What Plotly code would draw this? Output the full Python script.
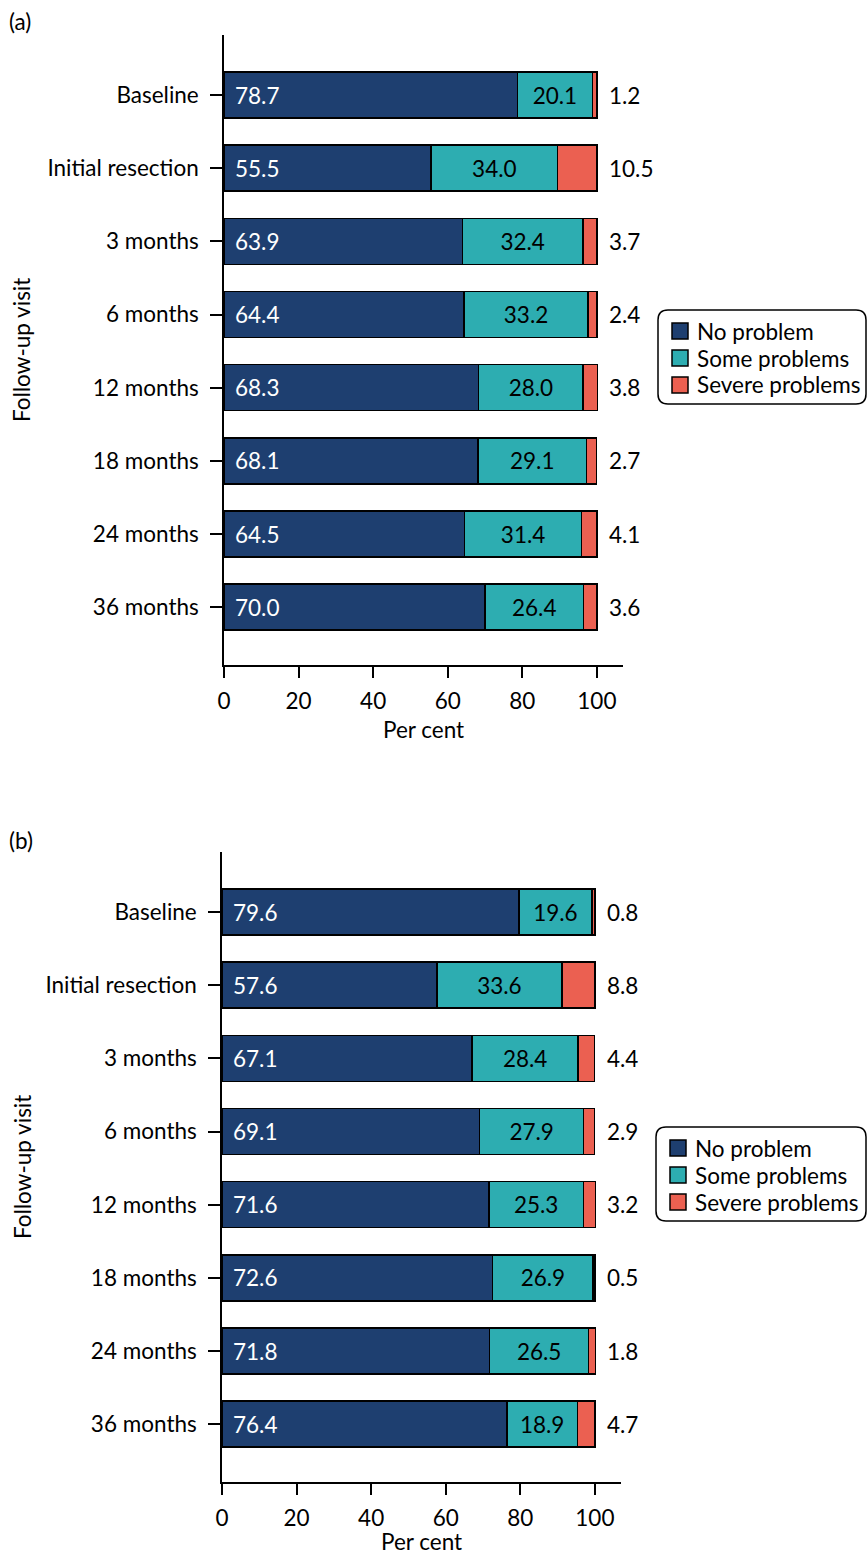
import plotly.graph_objects as go

visits = ["Baseline", "Initial resection", "3 months", "6 months",
          "12 months", "18 months", "24 months", "36 months"]
series_names = ["No problem", "Some problems", "Severe problems"]

a_none = [78.7, 55.5, 63.9, 64.4, 68.3, 68.1, 64.5, 70.0]
a_some = [20.1, 34.0, 32.4, 33.2, 28.0, 29.1, 31.4, 26.4]
a_severe = [1.2, 10.5, 3.7, 2.4, 3.8, 2.7, 4.1, 3.6]

b_none = [79.6, 57.6, 67.1, 69.1, 71.6, 72.6, 71.8, 76.4]
b_some = [19.6, 33.6, 28.4, 27.9, 25.3, 26.9, 26.5, 18.9]
b_severe = [0.8, 8.8, 4.4, 2.9, 3.2, 0.5, 1.8, 4.7]

x_ticks = [0, 20, 40, 60, 80, 100]

W, H = 868, 1555
NAVY = "#1E3F70"
TEAL = "#2DADB1"
CORAL = "#EB6051"
COLORS = [NAVY, TEAL, CORAL]
FONT = "Lato"
FS = 22.5


def px(x):
    return x / W


def py(y):
    return 1 - y / H


fig = go.Figure()

panels = [
    dict(key="", none=a_none, some=a_some, sev=a_severe,
         xdom=(224, 623), ydom=(35, 665), label="(a)", label_y=22,
         title_y=729, legbox=(658, 310, 866, 404)),
    dict(key="2", none=b_none, some=b_some, sev=b_severe,
         xdom=(222, 621), ydom=(852, 1482), label="(b)", label_y=840,
         title_y=1541, legbox=(656, 1127, 866, 1221)),
]

annotations = []
shapes = []
for p in panels:
    xa = "x" + p["key"]
    ya = "y" + p["key"]
    for name, vals, col in zip(series_names, [p["none"], p["some"], p["sev"]], COLORS):
        fig.add_trace(go.Bar(
            y=visits, x=vals, orientation="h", name=name, showlegend=False,
            marker=dict(color=col, line=dict(color="black", width=1.5)),
            width=0.63, xaxis=xa, yaxis=ya,
            text=[f"{v:.1f}" for v in vals] if name == "Some problems" else None,
            textposition="inside" if name == "Some problems" else "none",
            insidetextanchor="middle",
            textfont=dict(color="black", size=FS, family=FONT),
            hoverinfo="skip",
        ))
    for i, v in enumerate(visits):
        annotations.append(dict(
            x=0, y=v, xref=xa, yref=ya, text=f"{p['none'][i]:.1f}",
            showarrow=False, xanchor="left", xshift=9,
            font=dict(color="white", size=FS, family=FONT)))
        tot = p["none"][i] + p["some"][i] + p["sev"][i]
        annotations.append(dict(
            x=tot, y=v, xref=xa, yref=ya, text=f"{p['sev'][i]:.1f}",
            showarrow=False, xanchor="left", xshift=10,
            font=dict(color="black", size=FS, family=FONT)))
    # panel label, axis titles
    annotations.append(dict(x=px(7), y=py(p["label_y"]), xref="paper", yref="paper",
                            text=p["label"], showarrow=False, xanchor="left",
                            yanchor="middle", font=dict(size=FS, family=FONT, color="black")))
    annotations.append(dict(x=px((p["xdom"][0] + p["xdom"][1]) / 2), y=py(p["title_y"]),
                            xref="paper", yref="paper", text="Per cent",
                            showarrow=False, xanchor="center", yanchor="middle",
                            font=dict(size=FS, family=FONT, color="black")))
    annotations.append(dict(x=px(22), y=py((p["ydom"][0] + p["ydom"][1]) / 2),
                            xref="paper", yref="paper", text="Follow-up visit",
                            showarrow=False, xanchor="center", yanchor="middle",
                            textangle=-90,
                            font=dict(size=FS, family=FONT, color="black")))
    # legend box (drawn manually for rounded corners and tight spacing)
    x0, y0, x1, y1 = p["legbox"]
    r = 10
    path = (f"M {px(x0 + r)},{py(y0)} L {px(x1 - r)},{py(y0)} "
            f"Q {px(x1)},{py(y0)} {px(x1)},{py(y0 + r)} L {px(x1)},{py(y1 - r)} "
            f"Q {px(x1)},{py(y1)} {px(x1 - r)},{py(y1)} L {px(x0 + r)},{py(y1)} "
            f"Q {px(x0)},{py(y1)} {px(x0)},{py(y1 - r)} L {px(x0)},{py(y0 + r)} "
            f"Q {px(x0)},{py(y0)} {px(x0 + r)},{py(y0)} Z")
    shapes.append(dict(type="path", path=path, xref="paper", yref="paper",
                       line=dict(color="black", width=1.5)))
    for j, (name, col) in enumerate(zip(series_names, COLORS)):
        cy = y0 + 21 + j * 27
        cx = x0 + 22
        shapes.append(dict(type="rect", xref="paper", yref="paper",
                           x0=px(cx - 8), x1=px(cx + 8), y0=py(cy + 8), y1=py(cy - 8),
                           fillcolor=col, line=dict(color="black", width=1.5)))
        annotations.append(dict(x=px(x0 + 37), y=py(cy), xref="paper", yref="paper",
                                text=name, showarrow=False, xanchor="left",
                                yanchor="middle",
                                font=dict(size=FS, family=FONT, color="black")))

axis_common = dict(showline=True, linecolor="black", linewidth=1.5, ticks="outside",
                   tickcolor="black", tickwidth=1.5, showgrid=False, zeroline=False,
                   automargin=False,
                   tickfont=dict(size=FS, family=FONT, color="black"))

layout = dict(
    width=W, height=H, margin=dict(l=0, r=0, t=0, b=0, pad=0, autoexpand=False),
    plot_bgcolor="white", paper_bgcolor="white", barmode="stack",
    font=dict(family=FONT, size=FS, color="black"), showlegend=False,
    annotations=annotations, shapes=shapes,
    uniformtext=dict(mode="show", minsize=FS),
)
for p in panels:
    k = p["key"]
    layout["xaxis" + k] = dict(domain=[px(p["xdom"][0]), px(p["xdom"][1])],
                               range=[0, 107], anchor="y" + k, tickvals=x_ticks,
                               ticklen=11, ticklabelstandoff=4, **axis_common)
    layout["yaxis" + k] = dict(domain=[py(p["ydom"][1]), py(p["ydom"][0])],
                               range=[7.79, -0.82], anchor="x" + k,
                               categoryorder="array", categoryarray=visits,
                               ticklen=12, ticklabelstandoff=7, **axis_common)

fig.update_layout(**layout)
fig.write_html(
    "out.html",
    config={"displayModeBar": False},
    post_script="document.body.style.margin='0';document.body.style.padding='0';"
                "document.body.style.overflow='hidden';",
)
